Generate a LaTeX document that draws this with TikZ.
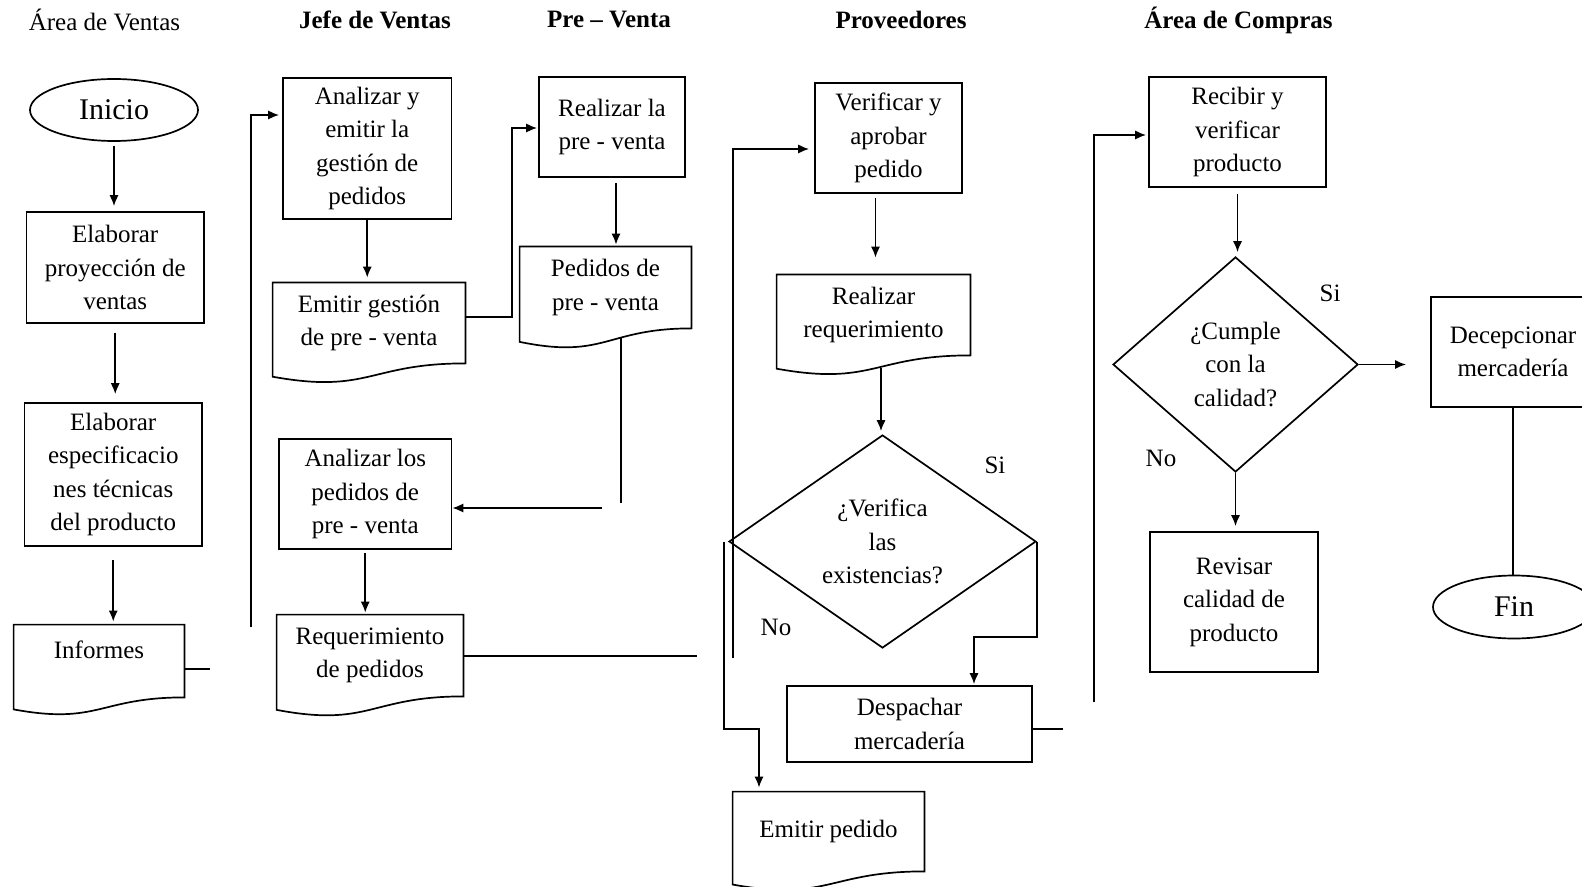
\documentclass[tikz,border=0pt]{standalone}
\usepackage{fontspec}
\setmainfont{Liberation Serif}
\usetikzlibrary{shapes.geometric,arrows.meta,calc}
\newcommand{\fs}{\fontsize{12.5pt}{16.75pt}\selectfont}
\newcommand{\fsbig}{\fontsize{15pt}{18pt}\selectfont}
\newcommand{\docshape}[1]{%
  \draw[ln] (#1.north west) -- (#1.north east) -- (#1.south east)
    .. controls (#1.south) and ($(#1.north)!1.381!(#1.south)$)
    .. ($(#1.north west)!1.1646!(#1.south west)$) -- cycle;}
\tikzset{
  base/.style={font=\fs, align=center, inner sep=0pt},
  proc/.style={base, draw, rectangle, line width=0.85pt},
  docnode/.style={base, rectangle},
  term/.style={base, draw, ellipse, line width=0.85pt, font=\fsbig},
  decis/.style={base, draw, diamond, line width=0.85pt},
  ln/.style={line width=0.85pt},
  arr/.style={ln, -{Latex[length=5.5pt,width=4.6pt]}},
  ttl/.style={font=\fs, inner sep=0pt},
  lab/.style={font=\fs, inner sep=0pt},
}
\begin{document}
\begin{tikzpicture}[x=0.5pt,y=-0.5pt]
\useasboundingbox (0,0) rectangle (1582,887);
\clip (0,0) rectangle (1582,887);

% titles
\node[ttl] (t1) at (104.5,20) {Área de Ventas};
\node[ttl] (t2) at (375,20) {\bfseries Jefe de Ventas};
\node[ttl] (t3) at (609,20) {\bfseries Pre – Venta};
\node[ttl] (t4) at (901,20) {\bfseries Proveedores};
\node[ttl] (t5) at (1238.5,20) {\bfseries Área de Compras};

% Area de Ventas
\node[term, minimum width=84pt, minimum height=31pt] (inicio) at (114,110) {Inicio};
\node[proc, minimum width=88.75pt, minimum height=55.5pt] (box1) at (115.25,267.5) {Elaborar\\proyección de\\ventas};
\node[proc, minimum width=88.75pt, minimum height=71.5pt] (box2) at (113.25,474.5) {Elaborar\\especificacio\\nes técnicas\\del producto};
\node[docnode, minimum width=85pt, minimum height=36pt, text height=8.5pt, text depth=11pt] (inf) at (99,661) {Informes};
\docshape{inf}

% Jefe de Ventas
\node[proc, minimum width=84.25pt, minimum height=70.5pt] (ana1) at (367.25,148.5) {Analizar y\\emitir la\\gestión de\\pedidos};
\node[docnode, minimum width=96pt, minimum height=40pt] (emg) at (369,323) {Emitir gestión\\de pre - venta};
\docshape{emg}
\node[proc, minimum width=86.25pt, minimum height=55pt] (ana2) at (365.25,494) {Analizar los\\pedidos de\\pre - venta};
\node[docnode, minimum width=93pt, minimum height=40.5pt] (req) at (370,655.5) {Requerimiento\\de pedidos};
\docshape{req}

% Pre - Venta
\node[proc, minimum width=73pt, minimum height=50pt] (real) at (612,127) {Realizar la\\pre - venta};
\node[docnode, minimum width=85.5pt, minimum height=40.5pt] (ped) at (605.5,287.5) {Pedidos de\\pre - venta};
\docshape{ped}

% Proveedores
\node[proc, minimum width=73.5pt, minimum height=55pt] (ver) at (888.5,138) {Verificar y\\aprobar\\pedido};
\node[docnode, minimum width=96.5pt, minimum height=40pt] (rreq) at (873.5,315) {Realizar\\requerimiento};
\docshape{rreq}
\node[decis, minimum width=153.5pt, minimum height=106.5pt] (dv) at (882.5,541.5) {¿Verifica\\las\\existencias?};
\node[proc, minimum width=122.5pt, minimum height=38pt] (desp) at (909.5,724) {Despachar\\mercadería};
\node[docnode, minimum width=95.5pt, minimum height=39.5pt] (emp) at (828.5,831.5) {Emitir pedido};
\docshape{emp}

% Area de Compras
\node[proc, minimum width=88.5pt, minimum height=55pt] (rec) at (1237.5,132) {Recibir y\\verificar\\producto};
\node[decis, minimum width=122.5pt, minimum height=107.5pt] (dc) at (1235.5,364.5) {¿Cumple\\con la\\calidad?};
\node[proc, minimum width=84pt, minimum height=70pt] (rev) at (1234,602) {Revisar\\calidad de\\producto};
\node[proc, minimum width=82pt, minimum height=55pt] (dec) at (1513,352) {Decepcionar\\mercadería};
\node[term, minimum width=81pt, minimum height=31.5pt] (fin) at (1514,607) {Fin};

% labels
\node[lab] (si1) at (995,465) {Si};
\node[lab] (no1) at (776,627) {No};
\node[lab] (si2) at (1330,293) {Si};
\node[lab] (no2) at (1161,458) {No};

% coordinates
\coordinate (infS) at (210,669);
\coordinate (l1) at (251,627);
\coordinate (l1t) at (251,115);
\coordinate (e1) at (512,317);
\coordinate (e2) at (512,128);
\coordinate (r1) at (616,183);
\coordinate (p1) at (621,338);
\coordinate (p2) at (621,503);
\coordinate (p3) at (602,508);
\coordinate (q1) at (697,656);
\coordinate (v1) at (733,658);
\coordinate (v2) at (733,149);
\coordinate (xv) at (875.5,0);
\coordinate (x2) at (881,368);
\coordinate (d2) at (974,637);
\coordinate (n2) at (724,729);
\coordinate (n3) at (759,729);
\coordinate (s1) at (1063,729);
\coordinate (k1) at (1094,702);
\coordinate (k2) at (1094,135);
\coordinate (c1) at (1406,364.5);

% connectors
\draw[arr, shorten <=2pt, shorten >=2.5pt] (inicio.south) -- (inicio.south |- box1.north);
\draw[arr, shorten <=4.5pt, shorten >=4pt] (box1.south) -- (box1.south |- box2.north);
\draw[arr, shorten <=6.5pt, shorten >=1.5pt] (box2.south) -- (box2.south |- inf.north);
\draw[ln] (inf.east |- infS) -- (infS);
\draw[arr, shorten >=1.5pt] (l1) -- (l1t) -- (l1t -| ana1.west);
\draw[arr, shorten >=2.5pt] (ana1.south) -- (ana1.south |- emg.north);
\draw[arr, shorten >=0.5pt] (emg.east |- e1) -- (e1) -- (e2) -- (e2 -| real.west);
\draw[arr, shorten >=1pt] (r1) -- (r1 |- ped.north);
\draw[ln] (p1) -- (p2);
\draw[arr] (p3) -- (p3 -| ana2.east);
\draw[arr, shorten <=1.5pt, shorten >=1pt] (ana2.south) -- (ana2.south |- req.north);
\draw[ln] (req.east |- q1) -- (q1);
\draw[arr, shorten >=2.5pt] (v1) -- (v2) -- (v2 -| ver.west);
\draw[arr, shorten <=2pt, shorten >=8.5pt] (ver.south -| xv) -- (xv |- rreq.north);
\draw[arr, shorten >=1.5pt] (x2) -- (x2 |- dv.north);
\draw[arr, shorten >=0.5pt] (dv.east) -- (dv.east |- d2) -- (d2) -- (d2 |- desp.north);
\draw[arr, shorten >=2pt] (dv.west -| n2) -- (n2) -- (n3) -- (n3 |- emp.north);
\draw[ln] (desp.east |- s1) -- (s1);
\draw[arr, shorten >=1pt] (k1) -- (k2) -- (k2 -| rec.west);
\draw[arr, shorten <=3pt, shorten >=2pt] (rec.south) -- (rec.south |- dc.north);
\draw[arr] (dc.east) -- (c1);
\draw[arr, shorten >=2.5pt] (dc.south) -- (dc.south |- rev.north);
\draw[ln] (dec.south) -- (dec.south |- fin.north);
\end{tikzpicture}
\end{document}
